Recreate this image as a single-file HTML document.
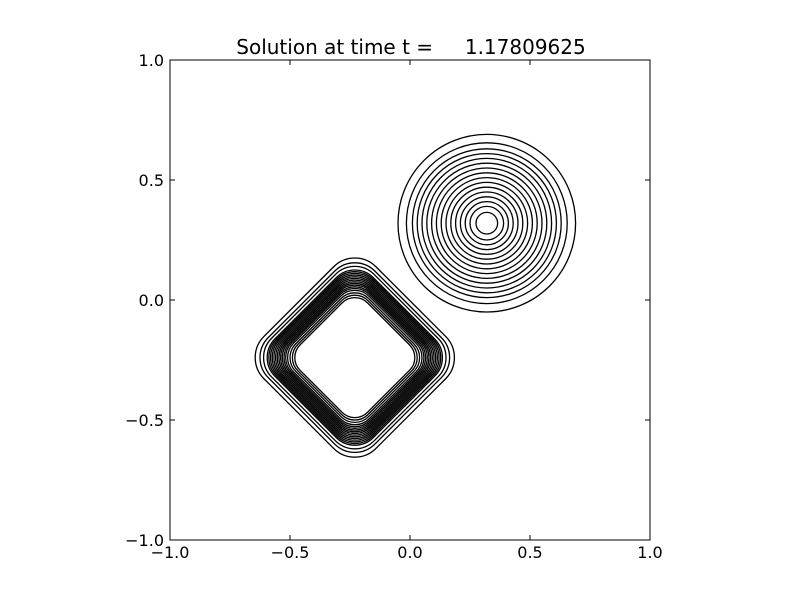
<!DOCTYPE html>
<html><head><meta charset="utf-8"><style>
body{margin:0;background:#fff;}
svg text{font-family:"DejaVu Sans","Liberation Sans",sans-serif;}
</style></head><body>
<svg id="chart" width="800" height="600" xmlns="http://www.w3.org/2000/svg">
<rect width="800" height="600" fill="#fff"/>
<text x="411" y="54" text-anchor="middle" font-size="20" xml:space="preserve">Solution at time t =     1.17809625</text>
<g id="marks"></g>
<rect x="170" y="60" width="480" height="480" fill="none" stroke="#000" stroke-width="1"/>
<g id="axes"></g>
</svg>
<script>
const xTicks = [-1.0, -0.5, 0.0, 0.5, 1.0];
const yTicks = [-1.0, -0.5, 0.0, 0.5, 1.0];
const tickLabels = ["\u22121.0", "\u22120.5", "0.0", "0.5", "1.0"];
const circleCenter = [0.32, 0.32];
const circleRadii = [0.37, 0.335, 0.31, 0.29, 0.27, 0.25, 0.23, 0.21, 0.19, 0.17, 0.15, 0.13, 0.11, 0.09, 0.07, 0.045];
const squareCenter = [-0.23, -0.24];
const squareReach = [0.415, 0.395, 0.38, 0.365, 0.358, 0.351, 0.344, 0.337, 0.33, 0.323, 0.316, 0.309, 0.302, 0.295, 0.288, 0.28, 0.27, 0.26, 0.25];

const X = v => 170 + (v + 1) * 240;
const Y = v => 540 - (v + 1) * 240;
const S = v => v * 240;
const NS = "http://www.w3.org/2000/svg";
const marks = document.getElementById('marks');
const axes = document.getElementById('axes');

circleRadii.forEach((r, i) => {
  const c = document.createElementNS(NS, 'circle');
  c.setAttribute('cx', X(circleCenter[0]));
  c.setAttribute('cy', Y(circleCenter[1]));
  c.setAttribute('r', S(r));
  c.setAttribute('fill', 'none');
  c.setAttribute('stroke', '#000');
  c.setAttribute('stroke-width', '1.3');
  
  
  marks.appendChild(c);
});

squareReach.forEach((d, i) => {
  const reach = S(d);
  const rr = reach * 0.3;
  const half = (reach - rr) / Math.SQRT2 + rr;
  const cx = X(squareCenter[0]), cy = Y(squareCenter[1]);
  const rc = document.createElementNS(NS, 'rect');
  rc.setAttribute('x', cx - half);
  rc.setAttribute('y', cy - half);
  rc.setAttribute('width', 2 * half);
  rc.setAttribute('height', 2 * half);
  rc.setAttribute('rx', rr);
  rc.setAttribute('fill', 'none');
  rc.setAttribute('stroke', '#000');
  rc.setAttribute('stroke-width', '1.3');
  rc.setAttribute('transform', 'rotate(45 ' + cx + ' ' + cy + ')');
  
  
  marks.appendChild(rc);
});

xTicks.forEach((v, i) => {
  const x = X(v);
  const t1 = document.createElementNS(NS, 'line');
  t1.setAttribute('x1', x); t1.setAttribute('x2', x);
  t1.setAttribute('y1', 540); t1.setAttribute('y2', 535);
  t1.setAttribute('stroke', '#000');
  
  
  axes.appendChild(t1);
  const t2 = document.createElementNS(NS, 'line');
  t2.setAttribute('x1', x); t2.setAttribute('x2', x);
  t2.setAttribute('y1', 60); t2.setAttribute('y2', 65);
  t2.setAttribute('stroke', '#000');
  
  
  axes.appendChild(t2);
  const tx = document.createElementNS(NS, 'text');
  tx.setAttribute('x', x); tx.setAttribute('y', 558);
  tx.setAttribute('text-anchor', 'middle');
  tx.setAttribute('font-size', '16');
  tx.textContent = tickLabels[i];
  
  
  axes.appendChild(tx);
});

yTicks.forEach((v, i) => {
  const y = Y(v);
  const t1 = document.createElementNS(NS, 'line');
  t1.setAttribute('x1', 170); t1.setAttribute('x2', 175);
  t1.setAttribute('y1', y); t1.setAttribute('y2', y);
  t1.setAttribute('stroke', '#000');
  
  
  axes.appendChild(t1);
  const t2 = document.createElementNS(NS, 'line');
  t2.setAttribute('x1', 645); t2.setAttribute('x2', 650);
  t2.setAttribute('y1', y); t2.setAttribute('y2', y);
  t2.setAttribute('stroke', '#000');
  
  
  axes.appendChild(t2);
  const tx = document.createElementNS(NS, 'text');
  tx.setAttribute('x', 164); tx.setAttribute('y', y + 6);
  tx.setAttribute('text-anchor', 'end');
  tx.setAttribute('font-size', '16');
  tx.textContent = tickLabels[i];
  
  
  axes.appendChild(tx);
});
</script>
</body></html>
